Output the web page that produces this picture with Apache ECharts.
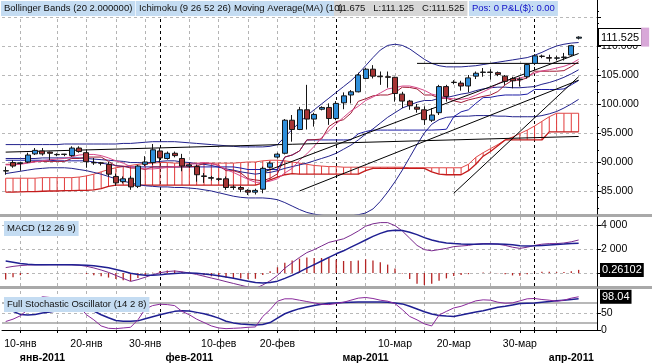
<!DOCTYPE html>
<html><head><meta charset="utf-8">
<script src="https://cdn.jsdelivr.net/npm/echarts@6/dist/echarts.min.js"></script>
<style>html,body{margin:0;padding:0;background:#fff}#c{width:652px;height:364px}</style>
</head><body><div id="c"></div>
<script>
// ---- categories (trading days) ----
const dates = ['2011-01-07','2011-01-09','2011-01-10','2011-01-11','2011-01-12','2011-01-13','2011-01-14','2011-01-16','2011-01-17','2011-01-18','2011-01-19','2011-01-20','2011-01-21','2011-01-23','2011-01-24','2011-01-25','2011-01-26','2011-01-27','2011-01-28','2011-01-30','2011-01-31','2011-02-01','2011-02-02','2011-02-03','2011-02-04','2011-02-06','2011-02-07','2011-02-08','2011-02-09','2011-02-10','2011-02-11','2011-02-13','2011-02-14','2011-02-15','2011-02-16','2011-02-17','2011-02-18','2011-02-20','2011-02-21','2011-02-22','2011-02-23','2011-02-24','2011-02-25','2011-02-27','2011-02-28','2011-03-01','2011-03-02','2011-03-03','2011-03-04','2011-03-06','2011-03-07','2011-03-08','2011-03-09','2011-03-10','2011-03-11','2011-03-13','2011-03-14','2011-03-15','2011-03-16','2011-03-17','2011-03-18','2011-03-20','2011-03-21','2011-03-22','2011-03-23','2011-03-24','2011-03-25','2011-03-27','2011-03-28','2011-03-29','2011-03-30','2011-03-31','2011-04-01','2011-04-03','2011-04-04','2011-04-05','2011-04-06','2011-04-07','2011-04-08'];

// ---- tick labels ----
const dayLabelDates = ['2011-01-10','2011-01-20','2011-01-30','2011-02-10','2011-02-20','2011-03-10','2011-03-20','2011-03-30'];
const monthNames = ['янв','фев','мар','апр'];
const monthLabelDates = ['2011-01-13','2011-02-06','2011-03-06','2011-04-07'];
const monthLabels = ['янв-2011','фев-2011','мар-2011','апр-2011'];
const gridLineDates = ['2011-01-10','2011-01-16','2011-01-20','2011-01-25','2011-01-30','2011-02-06','2011-02-10','2011-02-15','2011-02-20','2011-02-25','2011-03-06','2011-03-10','2011-03-15','2011-03-20','2011-03-25','2011-03-30','2011-04-05'];
const monthStartDates = ['2011-02-01','2011-03-01','2011-04-01'];
const priceTicks = [85,90,95,100,105,110,115];
const priceLabels = [85,90,95,100,105,110];
const macdTicks = [0,2,4];
const macdLabels = [2,4];
const stochTicks = [0,50];

// ---- OHLC ----
const opens = [88.45,89.9,89.75,90.0,91.4,91.9,91.7,91.3,91.35,91.1,92.4,91.6,89.9,89.85,89.6,87.5,86.6,87.2,85.8,89.6,89.9,91.9,90.6,91.5,90.6,89.3,89.2,87.6,87.3,87.1,87.1,85.7,85.6,85.1,84.8,85.3,89.1,90.85,91.5,97.2,95.6,99.0,97.4,99.1,99.4,97.5,100.2,101.55,102.1,104.4,106.0,104.8,104.7,104.6,101.7,100.5,99.45,99.0,97.2,98.5,103.0,103.75,103.6,103.1,104.8,105.45,105.5,105.4,104.8,104.4,104.2,104.7,107.0,108.25,108.0,107.9,108.0,108.45,111.35];
const closes = [88.5,89.3,89.85,91.2,92.0,91.4,91.5,91.25,91.3,92.4,91.8,90.05,89.85,89.8,87.9,86.4,87.1,85.7,89.3,90.0,92.1,90.7,91.5,91.1,89.3,89.5,87.8,87.5,87.2,87.0,85.6,85.6,85.3,84.8,85.1,88.9,89.8,91.35,97.2,95.6,99.0,97.4,98.2,99.4,97.5,100.1,101.4,102.1,105.0,106.0,104.8,104.7,104.6,101.8,100.5,99.7,99.1,97.3,98.1,103.0,101.3,103.7,103.1,104.5,105.3,105.5,105.45,105.1,103.9,104.0,104.3,106.8,108.3,108.2,107.9,107.95,108.1,110.05,111.525];
const highs = [89.2,90.3,90.05,91.6,92.4,92.4,91.8,91.5,91.4,92.7,92.7,92.2,90.7,90.0,90.0,88.0,87.5,87.6,89.5,91.0,93.1,92.4,91.8,91.8,91.4,89.9,89.5,88.1,87.6,87.3,87.5,86.0,85.9,85.3,85.4,89.2,90.1,91.6,97.4,98.1,99.5,103.3,98.5,99.6,100.1,100.5,102.0,102.4,105.4,106.2,106.7,105.6,105.6,104.7,102.1,100.7,100.0,99.6,99.3,103.3,103.3,104.1,104.0,105.0,105.6,106.2,106.0,105.6,105.0,104.7,104.6,107.0,108.6,108.5,108.5,108.3,108.8,110.2,111.675];
const lows = [87.8,89.0,88.5,89.8,91.2,91.1,90.3,91.0,91.0,90.9,91.6,89.0,89.5,89.4,87.5,85.9,86.3,85.2,85.5,89.3,89.5,89.9,90.4,90.8,88.4,89.0,86.6,86.4,86.8,86.7,85.2,85.2,84.8,84.3,84.4,84.6,88.9,90.6,91.3,93.5,95.5,95.6,96.1,98.9,96.4,97.2,99.1,100.1,102.0,104.3,104.4,103.3,102.8,100.4,99.3,99.0,98.5,96.4,96.9,98.1,100.4,103.4,102.3,102.0,104.3,104.7,104.2,104.8,103.3,102.7,103.0,104.4,106.7,107.9,107.3,107.5,107.5,108.3,111.125];

// ---- overlays on the price panel ----
const bbUpper = [93.0,93.0,93.0,93.0,93.0,93.0,93.0,93.0,93.1,93.1,93.1,93.1,93.1,93.1,93.1,93.1,93.2,93.2,93.3,93.4,93.5,93.5,93.5,93.5,93.4,93.3,93.2,93.1,93.0,92.9,92.8,92.7,92.6,92.6,92.6,92.6,92.7,93.0,94.3,95.6,96.8,98.0,99.0,100.0,101.0,102.0,103.0,104.0,105.2,106.6,108.0,109.3,110.1,110.3,110.1,109.5,108.6,107.7,107.0,106.6,106.4,106.4,106.4,106.5,106.6,106.8,107.0,107.2,107.4,107.6,107.8,108.0,108.4,108.9,109.5,110.0,110.3,110.5,110.6];
const bbMiddle = [90.6,90.6,90.6,90.6,90.6,90.7,90.7,90.7,90.7,90.7,90.7,90.6,90.5,90.4,90.3,90.2,90.1,89.9,89.9,89.8,90.0,90.1,90.2,90.2,90.0,89.9,89.7,89.6,89.4,89.1,88.8,88.6,88.3,88.1,87.9,88.1,88.2,88.5,88.9,89.2,89.5,89.8,90.2,90.6,91.0,91.5,92.2,92.9,93.8,94.8,95.7,96.7,97.7,98.5,99.3,99.8,100.3,100.6,100.6,101.0,101.1,101.4,101.7,101.9,102.3,102.6,102.8,102.9,102.9,102.8,102.8,102.9,103.0,103.4,103.7,104.1,104.6,105.2,105.9];
const bbLower = [88.0,88.2,88.4,88.6,88.8,88.9,89.0,89.0,89.0,88.9,88.7,88.5,88.2,87.9,87.5,87.1,86.7,86.4,86.1,85.9,85.8,85.7,85.7,85.6,85.6,85.5,85.4,85.2,85.0,84.7,84.4,84.1,83.9,83.8,83.8,83.8,83.7,83.5,83.0,82.4,81.8,81.3,81.0,80.8,80.7,80.6,80.6,80.7,80.9,81.2,81.9,83.2,84.8,86.6,88.6,90.8,93.0,95.0,96.5,97.3,97.7,97.8,97.9,97.9,98.0,98.0,98.0,97.9,97.9,97.8,97.8,97.8,97.8,98.0,98.3,98.7,99.3,100.0,100.8];
const ma10 = [89.5,89.5,89.6,89.8,90.0,90.2,90.4,90.5,90.6,90.9,91.2,91.3,91.3,91.1,90.7,90.2,89.8,89.2,89.0,88.8,88.8,88.9,89.05,89.2,89.3,89.6,89.7,89.9,89.7,89.4,88.7,88.2,87.6,87.0,86.5,86.5,86.7,87.1,88.1,88.9,90.3,91.4,92.7,94.2,95.4,96.6,97.7,98.8,99.6,100.6,101.2,101.9,102.6,102.8,103.1,103.1,102.8,102.35,101.7,101.4,101.0,100.9,100.8,101.0,101.5,102.1,102.7,103.5,104.1,104.2,104.5,104.8,105.3,105.7,105.9,106.2,106.5,106.95,107.7];
const tenkan = [89.6,89.6,89.7,89.9,90.1,90.1,90.1,90.1,90.1,90.6,90.6,90.85,90.85,90.85,90.1,89.3,89.3,88.95,88.95,88.7,89.15,89.15,89.15,89.15,89.15,89.15,89.3,89.75,89.75,89.4,88.5,88.5,88.1,87.1,86.9,86.75,87.2,87.95,90.85,91.2,91.9,93.8,93.85,93.95,96.1,96.95,97.3,98.4,100.45,100.9,101.4,101.55,101.55,101.95,102.9,102.85,102.6,101.55,101.55,101.0,101.0,100.55,100.25,100.7,101.0,101.3,101.55,102.15,103.3,104.1,104.1,104.5,105.65,105.65,105.65,105.65,105.75,106.45,107.3];
const kijun = [90.3,90.3,90.3,90.3,90.3,90.3,90.3,90.2,90.2,90.2,90.2,90.2,90.0,89.8,89.6,89.4,89.2,89.15,89.15,89.15,89.15,89.15,89.15,89.15,89.15,89.15,89.15,89.15,89.15,89.15,89.15,89.15,88.95,88.7,88.7,88.7,88.7,88.7,90.85,91.2,91.9,93.8,93.8,93.8,93.8,93.8,93.8,93.8,94.85,95.25,95.5,95.5,95.5,95.5,95.5,95.5,95.5,95.5,95.5,95.55,95.65,97.8,98.65,99.0,100.1,101.1,101.15,101.4,101.55,101.55,101.55,101.7,102.5,102.5,102.5,102.5,102.6,103.3,104.05];
const senkouA = [87.2,87.2,87.2,87.2,87.2,87.3,87.3,87.3,87.3,87.3,87.4,87.6,87.9,88.3,88.7,89.0,89.2,89.4,89.6,89.7,89.8,89.9,89.9,89.8,89.8,89.8,89.8,89.8,89.8,89.8,89.8,89.8,89.9,90.0,90.0,90.2,90.3,90.3,90.2,90.0,89.8,89.6,89.4,89.3,89.2,89.2,89.1,89.1,89.1,89.1,89.1,89.1,89.1,89.1,89.1,89.0,89.0,89.0,89.0,89.0,89.0,89.0,89.0,89.6,90.8,91.6,92.3,93.0,93.8,94.3,94.9,95.5,96.2,97.0,97.8,98.4,98.4,98.4,98.4];
const senkouB = [84.8,84.8,84.85,84.9,84.9,84.95,85.0,85.0,85.05,85.05,85.1,85.1,85.2,85.4,85.8,86.0,86.0,86.0,86.0,86.0,86.0,86.0,86.0,86.0,86.0,86.0,86.0,86.0,86.0,86.0,86.0,86.0,86.0,86.0,86.0,86.4,86.9,87.4,87.8,88.0,87.9,87.9,87.9,87.9,87.9,87.9,87.9,87.9,87.9,88.5,88.9,88.9,88.9,88.9,88.9,88.9,88.9,88.9,88.3,87.9,87.8,87.8,87.8,88.5,89.6,91.0,91.8,92.8,93.8,93.8,93.8,93.8,93.8,93.8,95.2,95.2,95.2,95.2,95.2];
// drawn trend lines: [category index, price]
const trend1 = [[0,91.7],[78,94.4]];
const trend2 = [[40,85.0],[78,104.1]];
const trend3 = [[35,88.2],[78,108.7]];
const trend4 = [[61,84.6],[78,104.7]];
const trend5 = [[56,107.0],[78,107.0]];

// ---- MACD (12 26 9) ----
const macdLine = [0.45,0.55,0.62,0.66,0.68,0.68,0.69,0.69,0.69,0.68,0.65,0.56,0.42,0.25,0.05,-0.2,-0.45,-0.7,-0.55,-0.35,-0.15,0.02,0.12,0.17,0.1,0.0,-0.12,-0.27,-0.42,-0.56,-0.72,-0.87,-1.02,-1.17,-1.28,-1.0,-0.65,-0.2,0.4,0.85,1.3,1.7,1.95,2.25,2.55,2.7,2.85,3.15,3.5,3.9,4.1,4.2,4.2,3.95,3.5,2.9,2.3,1.95,1.85,1.95,2.05,2.2,2.25,2.3,2.4,2.45,2.45,2.4,2.3,2.15,2.05,2.15,2.3,2.4,2.45,2.45,2.5,2.6,2.75];
const macdSignal = [1.0,0.9,0.8,0.72,0.69,0.68,0.68,0.68,0.68,0.68,0.67,0.65,0.6,0.53,0.43,0.3,0.15,-0.02,-0.13,-0.18,-0.18,-0.15,-0.09,-0.04,-0.01,-0.01,-0.03,-0.08,-0.15,-0.23,-0.33,-0.44,-0.56,-0.68,-0.8,-0.84,-0.8,-0.68,-0.45,-0.2,0.1,0.4,0.7,1.0,1.3,1.6,1.85,2.15,2.45,2.75,3.05,3.3,3.5,3.57,3.55,3.4,3.2,2.95,2.75,2.6,2.5,2.45,2.42,2.4,2.4,2.41,2.42,2.42,2.4,2.35,2.28,2.25,2.27,2.3,2.34,2.38,2.41,2.45,2.489];
const macdHist = [-0.55,-0.35,-0.18,-0.06,-0.01,0.0,0.01,0.01,0.01,0.0,-0.02,-0.09,-0.18,-0.28,-0.38,-0.5,-0.6,-0.68,-0.42,-0.17,0.03,0.17,0.21,0.21,0.11,0.01,-0.09,-0.19,-0.27,-0.33,-0.39,-0.43,-0.46,-0.49,-0.48,-0.16,0.15,0.48,0.85,1.05,1.2,1.3,1.25,1.25,1.25,1.1,1.0,1.0,1.05,1.15,1.05,0.9,0.7,0.38,-0.05,-0.5,-0.9,-1.0,-0.9,-0.65,-0.45,-0.25,-0.17,-0.1,0.0,0.04,0.03,-0.02,-0.1,-0.2,-0.23,-0.1,0.03,0.1,0.11,0.07,0.09,0.15,0.26102];

// ---- Full Stochastic (14 2 8) ----
const stochK = [25,32,42,60,85,98,96,94,92,85,70,45,30,12,5,4,6,8,30,62,72,76,75,72,55,45,32,22,12,6,4,5,6,8,9,40,60,85,92,92,88,84,80,76,75,78,82,88,94,96,93,88,85,78,60,40,30,18,12,44,55,65,70,78,86,89,88,82,79,80,86,92,93,90,88,85,88,94,98.04];
const stochD = [60,55,46,44,46,50,53,57,60,65,70,66,56,45,36,28,26,26,27,33,39,45,50,55,57,56,52,48,42,35,26,21,18,16,15,16,22,35,48,56,63,68,72,76,79,80,81,82,83,83,83,83,82,80,77,70,62,54,47,43,41,40,44,49,53,57,62,67,70,74,78,79,80,82,84,86,88,90,92];
const stochLevels = [20,80];

// ---- header texts ----
const headerItems = ['Bollinger Bands (20 2.000000)','Ichimoku (9 26 52 26)','Moving Average(MA) (10)'];
const quoteText = '11.675   L:111.125   C:111.525';
const posText = 'Pos: 0 P&L($): 0.00';

const FONT = '"Liberation Sans", Arial, sans-serif';
const chart = echarts.init(document.getElementById('c'), null, {renderer: 'canvas'});

const fmtDay = d => (+d.slice(8)) + '-' + monthNames[(+d.slice(5, 7)) - 1];
const vLines = gridLineDates.map(d => ({xAxis: d, lineStyle: {color: '#b4b4b4', type: [3, 3], width: 1}}))
  .concat(monthStartDates.map(d => ({xAxis: d, lineStyle: {color: '#000', type: [3, 3], width: 1}})));
const vMark = (extra) => ({silent: true, symbol: 'none', z: 1, animation: false, label: {show: false},
  data: vLines.concat(extra || [])});
const valueBox = (v, text, bg, fg) => ({yAxis: v, lineStyle: {color: 'transparent', width: 0},
  label: {show: true, position: 'end', distance: 3, formatter: text, color: fg, backgroundColor: bg,
    fontFamily: FONT, fontSize: 11, padding: [2, 2, 1, 2], borderColor: '#000', borderWidth: bg === '#fff' ? 1 : 0}});

const lineS = (name, data, color, width, gi) => ({type: 'line', name, data, xAxisIndex: gi, yAxisIndex: gi,
  symbol: 'none', showSymbol: false, silent: true, lineStyle: {color, width: width || 1}, z: 2});

const xBase = gi => ({type: 'category', gridIndex: gi, data: dates, max: 80, boundaryGap: true, position: 'bottom',
  axisLine: {show: false}, axisTick: {show: false}, axisLabel: {show: false}, splitLine: {show: false}});

const axisLabelStyle = {color: '#000', fontFamily: FONT, fontSize: 10.5};
const splitDash = {show: true, lineStyle: {color: '#b8b8b8', type: [3, 3], width: 1}};

const titleBox = (text, left, top, bg, color) => ({text, left, top, padding: [2, 3, 2, 3], backgroundColor: bg,
  textStyle: {fontFamily: FONT, fontSize: 9.5, fontWeight: 'normal', color: color || '#111', lineHeight: 11}});

const option = {
  animation: false,
  backgroundColor: '#fff',
  title: [
    titleBox(headerItems[0], 1, 1, '#c4dcf2'),
    titleBox(headerItems[1], 136, 1, '#c4dcf2'),
    titleBox(headerItems[2], 231, 1, '#c4dcf2'),
    titleBox(quoteText, 334, 1, '#d6d6d6'),
    titleBox(posText, 469, 1, '#c4dcf2', '#1010c8'),
    titleBox('MACD (12 26 9)', 4, 221, '#c4dcf2'),
    titleBox('Full Stochastic Oscillator (14 2 8)', 4, 297, '#c4dcf2')
  ],
  graphic: [
    {type: 'rect', shape: {x: 0, y: 214, width: 652, height: 3}, style: {fill: '#a9a9a9'}, silent: true},
    {type: 'rect', shape: {x: 0, y: 286, width: 652, height: 3}, style: {fill: '#a9a9a9'}, silent: true}
  ],
  grid: [
    {left: 2, right: 55, top: 0, height: 214},
    {left: 2, right: 55, top: 217, height: 69},
    {left: 2, right: 55, top: 289, height: 46}
  ],
  xAxis: [
    xBase(0), xBase(1),
    Object.assign(xBase(2), {
      axisLine: {show: true, lineStyle: {color: '#000'}},
      axisTick: {show: true, alignWithLabel: true, length: 3, lineStyle: {color: '#000'},
        interval: (i, v) => gridLineDates.includes(v) || monthStartDates.includes(v)},
      axisLabel: Object.assign({show: true, margin: 9, interval: (i, v) => dayLabelDates.includes(v),
        formatter: v => fmtDay(v)}, axisLabelStyle)
    }),
    Object.assign(xBase(2), {
      axisLabel: Object.assign({show: true, margin: 23, interval: (i, v) => monthLabelDates.includes(v),
        formatter: v => monthLabels[monthLabelDates.indexOf(v)]}, axisLabelStyle, {fontWeight: 'bold'})
    })
  ],
  yAxis: [
    {type: 'value', gridIndex: 0, position: 'right', min: 81.03, max: 117.93, scale: true,
      axisLine: {show: true, lineStyle: {color: '#000'}},
      axisTick: {show: true, length: 4, lineStyle: {color: '#000'}, customValues: priceTicks},
      minorTick: {show: true, splitNumber: 5, length: 2, lineStyle: {color: '#000'}},
      axisLabel: Object.assign({margin: 4, customValues: priceLabels, formatter: v => v.toFixed(3)}, axisLabelStyle),
      splitLine: splitDash},
    {type: 'value', gridIndex: 1, position: 'right', min: -1.0833, max: 4.6667,
      axisLine: {show: true, lineStyle: {color: '#000'}},
      axisTick: {show: true, length: 4, lineStyle: {color: '#000'}, customValues: macdTicks},
      axisLabel: Object.assign({margin: 4, customValues: macdLabels, formatter: v => v.toFixed(3).replace('.', ' ')}, axisLabelStyle),
      splitLine: splitDash},
    {type: 'value', gridIndex: 2, position: 'right', min: 0, max: 121,
      axisLine: {show: true, lineStyle: {color: '#000'}},
      axisTick: {show: true, length: 4, lineStyle: {color: '#000'}, customValues: stochTicks},
      axisLabel: Object.assign({margin: 4, customValues: stochTicks, formatter: v => String(v)}, axisLabelStyle),
      splitLine: splitDash}
  ],
  series: [
    // Ichimoku cloud hatch
    {type: 'custom', xAxisIndex: 0, yAxisIndex: 0, silent: true, z: 1,
      data: dates.map((d, i) => [i, senkouA[i], senkouB[i]]),
      encode: {x: 0, y: [1, 2]},
      renderItem: (params, api) => {
        const p1 = api.coord([api.value(0), api.value(1)]);
        const p2 = api.coord([api.value(0), api.value(2)]);
        return {type: 'line', shape: {x1: p1[0], y1: p1[1], x2: p2[0], y2: p2[1]},
          style: {stroke: '#e23a3a', lineWidth: 1}};
      }},
    Object.assign(lineS('Senkou A', senkouA, '#e04848', 1, 0), {markLine: vMark()}),
    lineS('Senkou B', senkouB, '#c41c1c', 1.3, 0),
    lineS('BB upper', bbUpper, '#22228c', 1, 0),
    lineS('BB middle', bbMiddle, '#22228c', 1, 0),
    lineS('BB lower', bbLower, '#22228c', 1, 0),
    lineS('Kijun', kijun, '#1c1ca4', 1, 0),
    lineS('Tenkan', tenkan, '#a01a34', 1, 0),
    lineS('MA10', ma10, '#d8488a', 1, 0),
    lineS('T1', trend1, '#000', 1, 0),
    lineS('T2', trend2, '#000', 1, 0),
    lineS('T3', trend3, '#000', 1, 0),
    lineS('T4', trend4, '#000', 1, 0),
    lineS('T5', trend5, '#000', 1, 0),
    {type: 'candlestick', name: 'price', xAxisIndex: 0, yAxisIndex: 0, barWidth: 5.5, silent: true, z: 3,
      data: dates.map((d, i) => [opens[i], closes[i], lows[i], highs[i]]),
      itemStyle: {color: '#2f8fda', color0: '#a53434', borderColor: '#151515', borderColor0: '#151515', borderWidth: 1},
      markLine: {silent: true, symbol: 'none', z: 6, animation: false,
        data: [{yAxis: closes[closes.length - 1], lineStyle: {color: 'transparent', width: 0},
          label: {show: true, position: 'end', distance: 2,
            formatter: '{a|' + closes[closes.length - 1].toFixed(3) + '}{b|}',
            rich: {a: {backgroundColor: '#fff', borderColor: '#000', borderWidth: 1, padding: [3, 2, 2, 2],
                fontFamily: FONT, fontSize: 11, color: '#000'},
              b: {backgroundColor: '#d8a8d8', width: 8, height: 19}}}}]}},
    // MACD panel
    {type: 'bar', name: 'hist', xAxisIndex: 1, yAxisIndex: 1, data: macdHist, barWidth: 1.3, silent: true,
      itemStyle: {color: '#b42424'}, z: 2,
      markLine: vMark([valueBox(macdHist[macdHist.length - 1], macdHist[macdHist.length - 1].toFixed(5), '#000', '#fff')])},
    lineS('MACD', macdLine, '#7a2a8e', 1, 1),
    lineS('Signal', macdSignal, '#1f1f92', 1.5, 1),
    // Stochastic panel
    Object.assign(lineS('%D', stochD, '#1f1f92', 1.5, 2), {markLine: vMark(stochLevels.map(v => ({yAxis: v,
      lineStyle: {color: '#a0a0a0', type: 'solid', width: 1.5}})))}),
    Object.assign(lineS('%K', stochK, '#8a2a9c', 1, 2), {markLine: {silent: true, symbol: 'none', z: 6, animation: false,
      data: [valueBox(stochK[stochK.length - 1], stochK[stochK.length - 1].toFixed(2), '#000', '#fff')]}})
  ]
};
chart.setOption(option);
</script></body></html>
